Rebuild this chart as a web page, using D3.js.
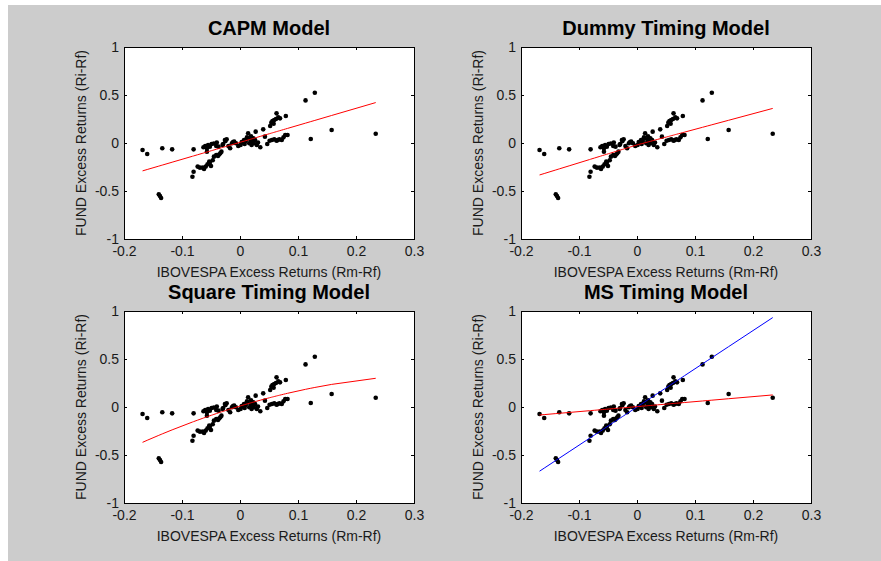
<!DOCTYPE html>
<html><head><meta charset="utf-8">
<script src="https://cdn.jsdelivr.net/npm/d3@7"></script>
<style>
body{margin:0;background:#fff}
text{font-family:Arial,"Liberation Sans",sans-serif}
</style>
</head><body>
<svg id="c" width="881" height="561"></svg>
<script>
// ---- data ----
const marketX = [-0.168,-0.160,-0.134,-0.117,-0.140,-0.138,-0.136,-0.080,-0.082,-0.080,
 -0.073,-0.069,-0.064,-0.059,-0.056,-0.053,-0.050,-0.052,-0.045,-0.041,
 -0.038,-0.034,-0.032,-0.063,-0.060,-0.057,-0.055,-0.052,-0.049,-0.057,
 -0.041,-0.037,-0.026,-0.023,-0.029,-0.020,-0.017,-0.014,-0.010,-0.007,
 -0.003,0.001,0.005,0.007,0.010,0.013,0.014,0.016,0.018,0.020,
 0.022,0.024,0.026,0.027,0.029,0.035,0.040,0.043,0.047,0.051,
 0.055,0.059,0.063,0.068,0.072,0.075,0.078,0.082,0.052,0.054,
 0.056,0.059,0.062,0.066,0.069,0.063,0.079,0.113,0.129,0.122,
 0.158,0.234,-0.045,-0.040,-0.030,-0.025,-0.012,0.003,0.008,0.012,
 0.019,0.023,0.031,-0.062,-0.047,-0.036,0.058,0.065];
const fundY = [-0.073,-0.114,-0.055,-0.066,-0.535,-0.552,-0.573,-0.066,-0.351,-0.299,
 -0.246,-0.257,-0.257,-0.246,-0.222,-0.194,-0.240,-0.205,-0.142,-0.125,
 -0.135,-0.108,-0.090,-0.045,-0.031,-0.055,-0.021,-0.038,-0.010,-0.090,
 -0.031,-0.038,0.031,0.038,-0.010,-0.031,-0.055,-0.003,0.014,-0.003,
 -0.031,-0.021,0.004,0.031,0.021,0.049,0.101,-0.003,0.031,-0.021,
 0.014,-0.003,0.031,0.118,-0.021,-0.045,0.142,0.066,-0.010,0.024,
 0.031,0.038,0.024,0.038,0.031,0.059,0.083,0.083,0.177,0.212,
 0.229,0.240,0.250,0.267,0.257,0.309,0.281,0.444,0.524,0.042,
 0.135,0.097,-0.005,0.005,-0.020,0.020,0.010,0.010,-0.010,0.060,
 0.070,0.050,0.005,-0.270,-0.180,-0.120,0.200,0.030];

const panelTitles = ["CAPM Model","Dummy Timing Model","Square Timing Model","MS Timing Model"];
const xTicks = [-0.2,-0.1,0,0.1,0.2,0.3];
const xTickLabels = ["-0.2","-0.1","0","0.1","0.2","0.3"];
const yTicks = [-1,-0.5,0,0.5,1];
const yTickLabels = ["-1","-0.5","0","0.5","1"];
const xLabelText = "IBOVESPA Excess Returns (Rm-Rf)";
const yLabelText = "FUND Excess Returns (Ri-Rf)";

// fitted model coefficients (estimated from the drawn lines)
const capmFit = [0.007, 1.77];            // alpha, beta
const dummyFit = [-0.02, 1.863, 1.625];   // alpha, beta (down), beta (up)
const squareFit = [0.01, 1.826, -2.524];  // alpha, beta, gamma
const msHighFit = [0.0, 3.98];            // regime 1
const msLowFit = [0.004, 0.52];           // regime 2

// ---- layout ----
const W = 290, H = 192;
const origins = [[124,47],[521,47],[124,311],[521,311]];

const svg = d3.select("#c");
svg.append("rect").attr("x",8).attr("y",5).attr("width",873).attr("height",556).attr("fill","#cccccc");

const sortedX = marketX.slice().sort((a,b)=>a-b);
const fits = [
  [{f: x => capmFit[0] + capmFit[1]*x, c:"#ff0000"}],
  [{f: x => dummyFit[0] + (x < 0 ? dummyFit[1] : dummyFit[2])*x, c:"#ff0000"}],
  [{f: x => squareFit[0] + squareFit[1]*x + squareFit[2]*x*x, c:"#ff0000"}],
  [{f: x => msHighFit[0] + msHighFit[1]*x, c:"#0000ff"},
   {f: x => msLowFit[0] + msLowFit[1]*x, c:"#ff0000"}]
];
const pts = marketX.map((x,i)=>({x, y: fundY[i]}));

origins.forEach(([ox,oy], p) => {
  const g = svg.append("g").attr("transform",`translate(${ox},${oy})`);
  const x = d3.scaleLinear().domain([-0.2,0.3]).range([0,W]);
  const y = d3.scaleLinear().domain([-1,1]).range([H,0]);

  g.append("rect").attr("width",W).attr("height",H).attr("fill","#fff");

  const style = sel => {
    sel.attr("font-size",14).attr("font-family",'Arial,"Liberation Sans",sans-serif');
    sel.select(".domain").remove();
    sel.selectAll(".tick line").attr("stroke","#000");
    sel.selectAll(".tick text").attr("fill","#1a1a1a");
  };
  g.append("g").attr("transform",`translate(0,${H})`)
    .call(d3.axisBottom(x).tickValues(xTicks).tickFormat((d,i)=>xTickLabels[i]).tickSizeInner(-3).tickSizeOuter(0).tickPadding(7))
    .call(style);
  g.append("g")
    .call(d3.axisTop(x).tickValues(xTicks).tickFormat("").tickSizeInner(-3).tickSizeOuter(0))
    .call(style);
  g.append("g")
    .call(d3.axisLeft(y).tickValues(yTicks).tickFormat((d,i)=>yTickLabels[i]).tickSizeInner(-3).tickSizeOuter(0).tickPadding(5))
    .call(style);
  g.append("g").attr("transform",`translate(${W},0)`)
    .call(d3.axisRight(y).tickValues(yTicks).tickFormat("").tickSizeInner(-3).tickSizeOuter(0))
    .call(style);

  g.append("g").selectAll("circle").data(pts).join("circle")
    .attr("cx",d=>x(d.x)).attr("cy",d=>y(d.y)).attr("r",2.3).attr("fill","#000");

  fits[p].forEach(ft => {
    g.append("path").datum(sortedX)
      .attr("d", d3.line().x(d=>x(d)).y(d=>y(ft.f(d))))
      .attr("fill","none").attr("stroke",ft.c).attr("stroke-width",1);
  });

  g.append("rect").attr("width",W).attr("height",H).attr("fill","none").attr("stroke","#000").attr("stroke-width",1).attr("shape-rendering","crispEdges");

  g.append("text").attr("x",W/2).attr("y",-12).attr("text-anchor","middle")
    .attr("font-size",20).attr("font-weight","bold").attr("fill","#000").text(panelTitles[p]);
  g.append("text").attr("x",W/2).attr("y",H+38).attr("text-anchor","middle")
    .attr("font-size",14).attr("fill","#1a1a1a").text(xLabelText);
  g.append("text").attr("transform",`translate(-43,${H/2}) rotate(-90)`).attr("dy","0.35em")
    .attr("text-anchor","middle").attr("font-size",14).attr("fill","#1a1a1a").text(yLabelText);
});
</script>
</body></html>
